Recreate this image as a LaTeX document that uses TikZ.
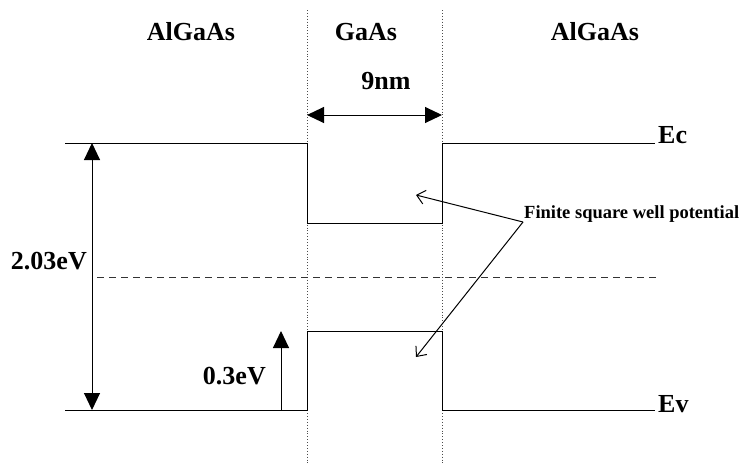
\documentclass[tikz,border=0pt]{standalone}
\usepackage{fontspec}
\setmainfont{Liberation Serif}
\usetikzlibrary{arrows.meta}
\begin{document}
\begin{tikzpicture}[x=1pt,y=-1pt,
  band/.style={line width=1pt},
  bigtip/.style={-{Triangle[length=17pt,width=16pt]}},
  bothtip/.style={{Triangle[length=17pt,width=16pt]}-{Triangle[length=17pt,width=16pt]}},
  pointer/.style={line width=1pt,-{Straight Barb[length=8pt,width=14pt,line width=1pt]}},
  lbl/.style={font=\fontsize{26}{26}\selectfont\bfseries,inner sep=0pt},
  note/.style={font=\fontsize{18.5}{18.5}\selectfont\bfseries,inner sep=0pt},
  iface/.style={line width=0.9pt,dotted,black!70},
  midgap/.style={line width=0.9pt,dash pattern=on 7pt off 5pt,black!80}]
\useasboundingbox (0,0) rectangle (742,464);

% interfaces between the layers
\draw[iface] (307,10) -- (307,464);
\draw[iface] (442,10) -- (442,464);

% conduction band edge
\draw[band] (65,143) -- (307,143) -- (307,223) -- (442,223) -- (442,143) -- (655,143);
% valence band edge
\draw[band] (65,410) -- (307,410) -- (307,331) -- (442,331) -- (442,410) -- (655,410);

% mid-gap reference
\draw[midgap] (97,277) -- (657,277);

% layer names
\node[lbl,anchor=base] (l1) at (191,40) {AlGaAs};
\node[lbl,anchor=base] (l2) at (366,40) {GaAs};
\node[lbl,anchor=base] (l3) at (595,40) {AlGaAs};

% well width
\coordinate (wl) at (307,115);
\coordinate (wr) at (442,115);
\draw[band,bothtip] (wl) -- (wr);
\node[lbl,anchor=base] (w) at (386,89) {9nm};

% band labels
\node[lbl,anchor=base west] (ec) at (658,143) {Ec};
\node[lbl,anchor=base west] (ev) at (658,412) {Ev};

% band gap
\coordinate (gt) at (92,143);
\coordinate (gb) at (92,410);
\draw[band,bothtip] (gt) -- (gb);
\node[lbl,anchor=base east] (gap) at (87,269) {2.03eV};

% valence band offset
\coordinate (ob) at (281,410);
\coordinate (ot) at (281,331);
\draw[band,bigtip] (ob) -- (ot);
\node[lbl,anchor=base east] (off) at (266,384) {0.3eV};

% annotation
\node[note,anchor=base west] (fsw) at (524,218) {Finite square well potential};
\coordinate (fs) at (523,222);
\coordinate (pc) at (416,195);
\coordinate (pv) at (416,357);
\draw[pointer] (fs) -- (pc);
\draw[pointer] (fs) -- (pv);
\end{tikzpicture}
\end{document}
